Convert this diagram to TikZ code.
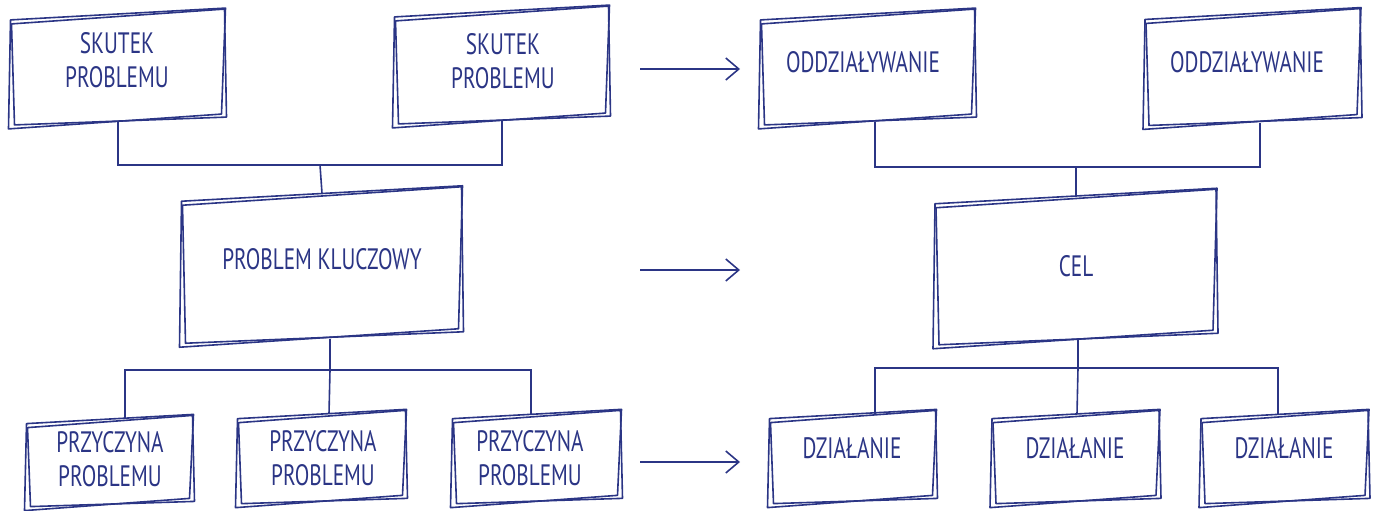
\documentclass[tikz,border=0pt]{standalone}
\usepackage{fontspec}
\setmainfont{PT Sans}[FakeStretch=0.72]
\usetikzlibrary{arrows.meta,calc}
\definecolor{ink}{HTML}{2B3585}
\tikzset{
  skline/.style={draw=ink, line width=1.6pt, line join=round},
  conn/.style={draw=ink, line width=1.6pt},
  arr/.style={draw=ink, line width=1.4pt, -{Straight Barb[length=13pt,width=22pt,line width=1.6pt]}},
  boxgeo/.style={draw=none, inner sep=0pt, rectangle},
  lbl/.style={text=ink, font=\fontsize{29.5}{34}\selectfont, align=center, inner sep=0pt}
}
\newcommand{\skbox}[8]{%
  \node[boxgeo, minimum width=#4pt, minimum height=#5pt] (#1) at (#2,#3) {};
  \node[lbl] (#1-t) at (#6,#7) {#8};
  \pgfmathsetmacro\xa{#2-#4/2}\pgfmathsetmacro\xb{#2+#4/2}%
  \pgfmathsetmacro\ya{#3-#5/2}\pgfmathsetmacro\yb{#3+#5/2}%
  \pgfmathsetmacro\tl{0.0275*#4}%
  \draw[skline] (\xa,\ya+\tl) -- (\xb,\ya-\tl) -- (\xb-4,\yb-\tl-2) -- (\xa-2,\yb+\tl+1) -- cycle;
  \draw[skline] (\xa+1,\ya+\tl+4) -- (\xb-1,\ya-\tl+1) -- (\xb+1,\yb-\tl+1) -- (\xa+4,\yb+\tl-3) -- cycle;
}
\begin{document}
\begin{tikzpicture}[x=1pt,y=-1pt]
\useasboundingbox (0,0) rectangle (1378,511);
% top row
\skbox{s1}{118}{68}{215}{108}{117}{60}{SKUTEK\\PROBLEMU}
\skbox{s2}{502}{66}{215}{110}{503}{61}{SKUTEK\\PROBLEMU}
\skbox{o1}{868}{68}{215}{108}{863}{62}{ODDZIAŁYWANIE}
\skbox{o2}{1253}{68}{216}{109}{1247}{62}{ODDZIAŁYWANIE}
% middle row
\skbox{pk}{322}{266}{281}{145}{322}{259}{PROBLEM KLUCZOWY}
\skbox{cel}{1076}{268}{282}{144}{1076}{266}{CEL}
% bottom row
\skbox{p1}{110}{462}{167}{86}{110}{459}{PRZYCZYNA\\PROBLEMU}
\skbox{p2}{322}{458}{169}{88}{323}{458}{PRZYCZYNA\\PROBLEMU}
\skbox{p3}{537}{458}{169}{88}{530}{458}{PRZYCZYNA\\PROBLEMU}
\skbox{d1}{853}{458}{167}{88}{852}{448}{DZIAŁANIE}
\skbox{d2}{1076}{458}{168}{88}{1075}{448}{DZIAŁANIE}
\skbox{d3}{1285}{458}{168}{88}{1284}{448}{DZIAŁANIE}
% connectors top-left
\coordinate (j1) at (320,165);
\draw[conn] (s1.south) |- (j1) -| (s2.south);
\draw[conn] (j1) -- (pk.north);
% connectors top-right
\coordinate (j2) at (1076,167);
\draw[conn] ($(o1.south)+(7,0)$) |- (j2) -| ($(o2.south)+(7,0)$);
\draw[conn] (j2) -- (cel.north);
% connectors bottom-left
\coordinate (j3) at (330,370);
\draw[conn] ($(pk.south)+(8,0)$) -- (j3);
\draw[conn] ($(p1.north)+(15,0)$) |- (j3) -| ($(p3.north)+(-6,0)$);
\draw[conn] (j3) -- ($(p2.north)+(7,0)$);
% connectors bottom-right
\coordinate (j4) at (1078,368);
\draw[conn] ($(cel.south)+(2,0)$) -- (j4);
\draw[conn] ($(d1.north)+(22,0)$) |- (j4) -| ($(d3.north)+(-7,0)$);
\draw[conn] (j4) -- ($(d2.north)+(1,0)$);
% arrows
\coordinate (a1s) at (640,69); \coordinate (a1e) at (740,69);
\coordinate (a2s) at (640,270); \coordinate (a2e) at (740,270);
\coordinate (a3s) at (640,462); \coordinate (a3e) at (740,462);
\draw[arr] (a1s) -- (a1e);
\draw[arr] (a2s) -- (a2e);
\draw[arr] (a3s) -- (a3e);
\end{tikzpicture}
\end{document}
